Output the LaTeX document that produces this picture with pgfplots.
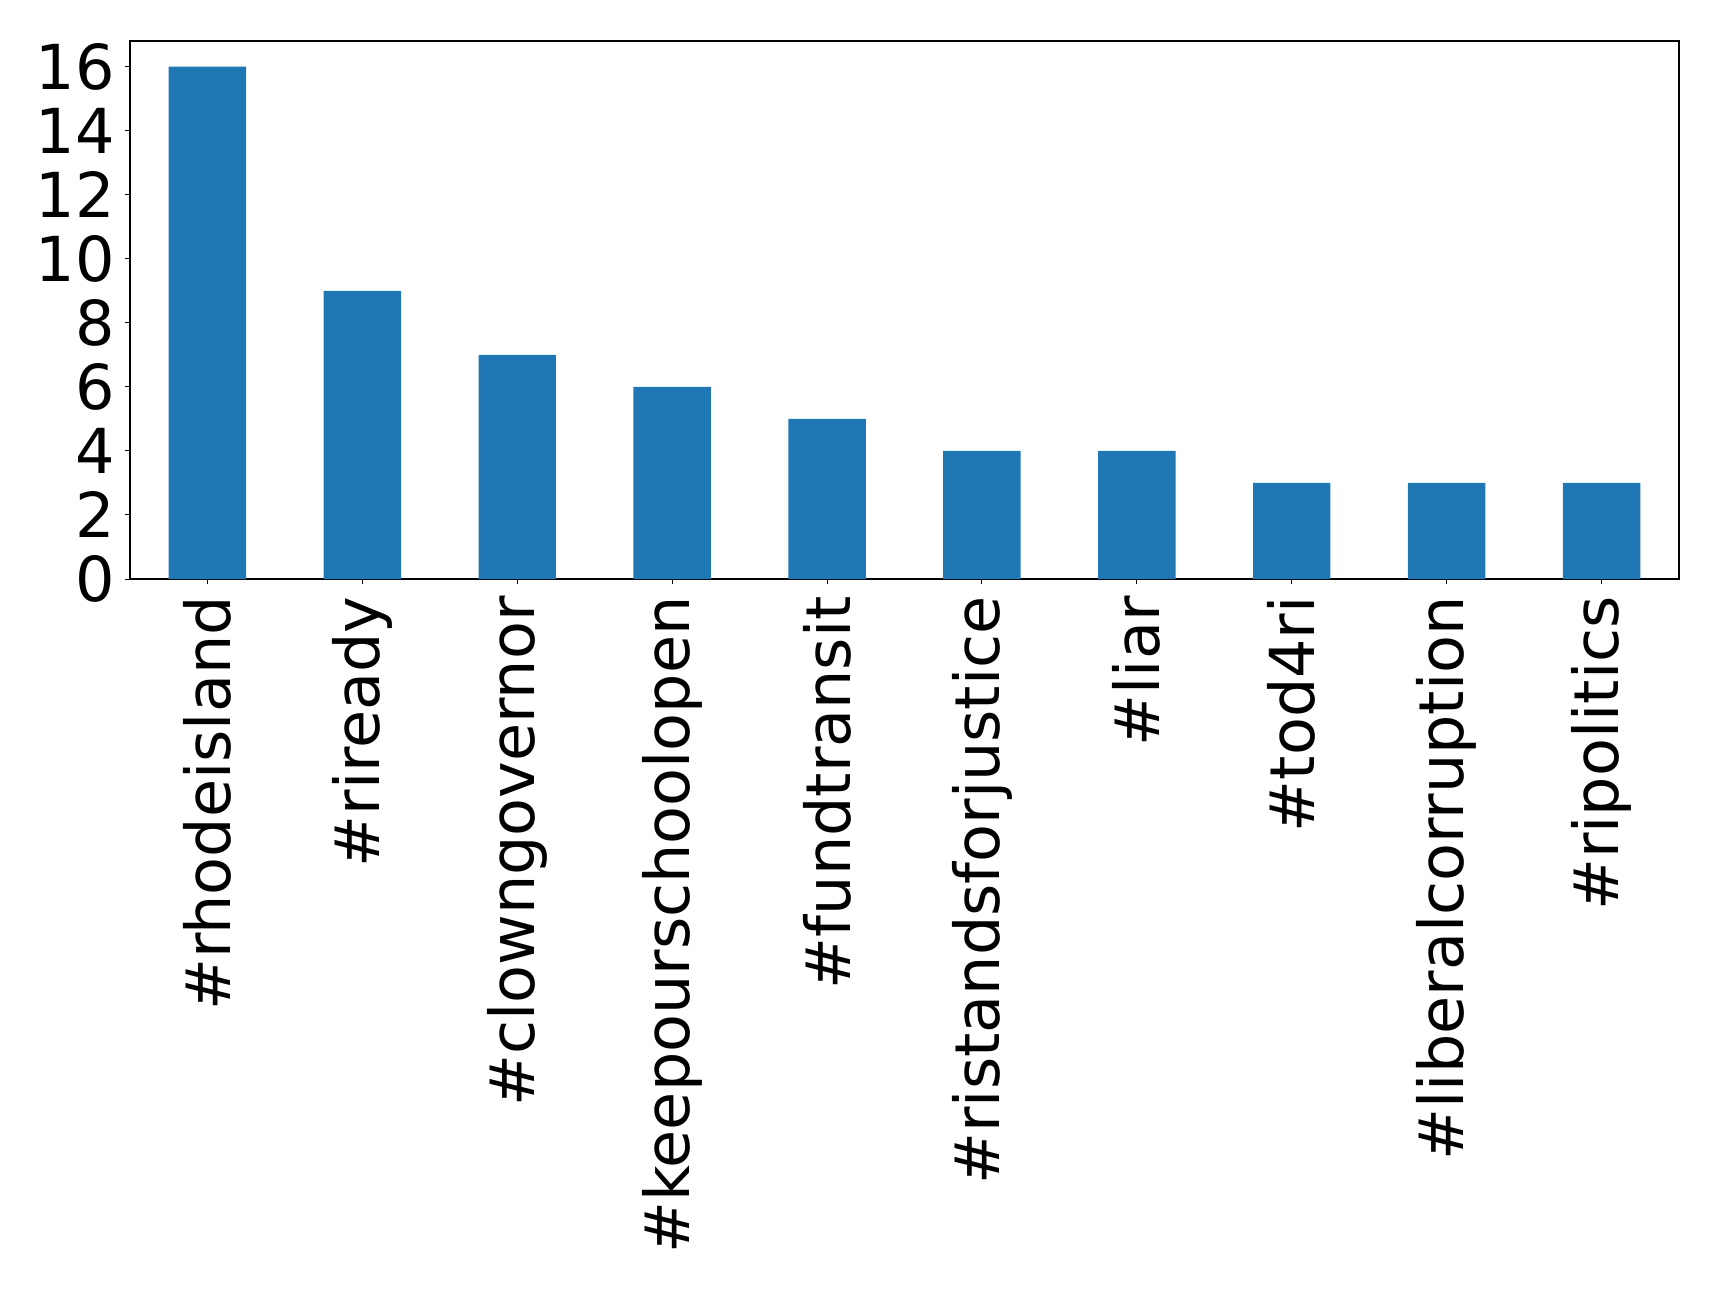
\documentclass[border=0pt]{standalone}
\usepackage{pgfplots}
\pgfplotsset{compat=1.18}
\usepackage{fontspec}
\setmainfont{DejaVu Sans}
\definecolor{mplblue}{HTML}{1F77B4}
\begin{document}
\begin{tikzpicture}
\begin{axis}[
  at={(0pt,0pt)}, anchor=south west,
  scale only axis,
  width=774.5pt, height=269pt,
  xmin=-0.5, xmax=9.5, ymin=0, ymax=16.8,
  xtick={0,...,9},
  xticklabels={\#rhodeisland,\#riready,\#clowngovernor,\#keepourschoolopen,\#fundtransit,\#ristandsforjustice,\#liar,\#tod4ri,\#liberalcorruption,\#ripolitics},
  ytick={0,2,...,16},
  xtick pos=bottom, ytick pos=left,
  tick align=outside,
  major tick length=2.5pt,
  tick style={black, line width=0.5pt},
  axis line style={black, line width=0.6pt},
  /pgf/number format/assume math mode=true,
  ticklabel style={font=\fontsize{31}{37}\selectfont},
  xticklabel style={rotate=90, anchor=east, inner sep=0pt, xshift=-6pt},
  yticklabel style={inner sep=0pt, xshift=-5pt},
]
\addplot[ybar, bar width=0.5, fill=mplblue, draw=none, bar shift=0pt] coordinates {
  (0,16) (1,9) (2,7) (3,6) (4,5) (5,4) (6,4) (7,3) (8,3) (9,3)
};
\end{axis}
\pgfresetboundingbox
\path (-65pt,-356pt) rectangle (794.5pt,289.5pt);
\end{tikzpicture}
\end{document}
